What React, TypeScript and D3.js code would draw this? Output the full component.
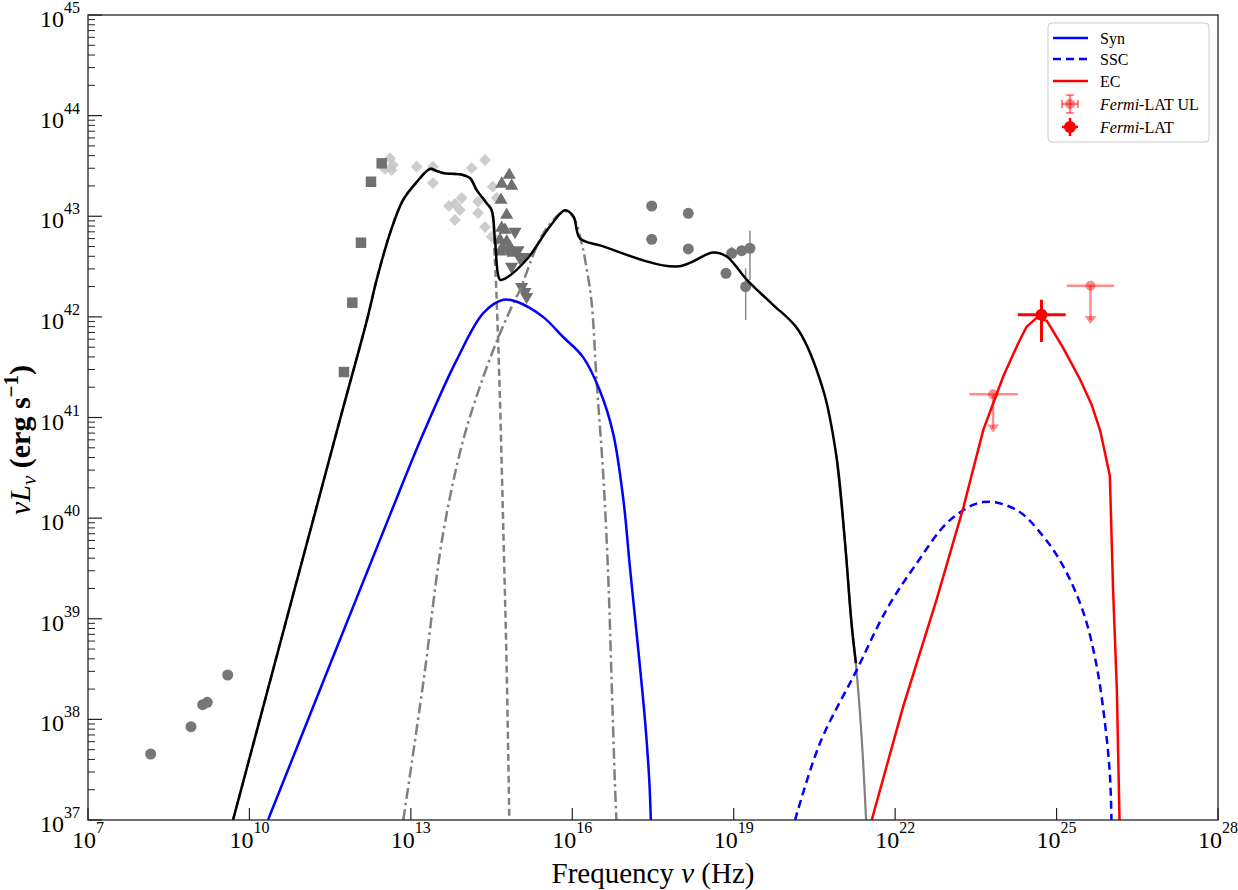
import * as d3 from "d3";
import { useEffect, useRef } from "react";

// all values are log10(nu / Hz) and log10(nuLnu / erg s^-1)

// total model (black)
const totalLogNu = [9.695, 11.683, 12.185, 12.365, 12.612, 12.854, 13.109, 13.356, 13.48, 13.597, 13.969, 14.099, 14.224, 14.409, 14.502, 14.564, 14.656, 14.749, 15.153, 15.586, 15.864, 16.02, 16.143, 16.515, 17.94, 18.62, 18.87, 19.24, 19.49, 19.73, 20.2, 20.665, 20.91, 21.065, 21.19, 21.27];
const totalLogL = [37.0, 40.98, 41.97, 42.37, 42.83, 43.16, 43.34, 43.47, 43.45, 43.43, 43.41, 43.38, 43.26, 43.13, 43.06, 42.76, 42.37, 42.38, 42.57, 42.9, 43.06, 43.0, 42.78, 42.71, 42.5, 42.64, 42.6, 42.37, 42.24, 42.12, 41.87, 41.27, 40.61, 39.78, 38.95, 38.56];

// x-ray component tail (grey solid)
const xrayLogNu = [20.91, 21.065, 21.19, 21.27, 21.38, 21.46];
const xrayLogL = [40.61, 39.78, 38.95, 38.56, 37.8, 37.0];

// host / dust component (grey dashed)
const dustLogNu = [9.695, 11.683, 12.185, 12.365, 12.612, 12.854, 13.109, 13.356, 13.48, 13.597, 13.969, 14.099, 14.224, 14.409, 14.502, 14.56, 14.595, 14.656, 14.72, 14.78, 14.83];
const dustLogL = [37.0, 40.98, 41.97, 42.37, 42.83, 43.16, 43.34, 43.47, 43.45, 43.43, 43.41, 43.38, 43.26, 43.13, 43.06, 42.57, 42.17, 41.17, 39.85, 38.52, 37.0];

// disk component (grey dash-dot)
const diskLogNu = [12.86, 13.23, 13.6, 13.975, 14.35, 14.66, 14.935, 15.03, 15.34, 15.55, 15.864, 16.02, 16.175, 16.27, 16.36, 16.45, 16.58, 16.67, 16.73, 16.79, 16.82];
const diskLogL = [37.0, 38.36, 39.85, 40.78, 41.41, 41.84, 42.17, 42.27, 42.7, 42.9, 43.05, 42.99, 42.73, 42.47, 42.14, 41.38, 40.39, 39.39, 38.4, 37.4, 37.0];

// Syn (blue)
const synLogNu = [10.345, 12.61, 13.23, 13.85, 14.35, 14.72, 14.97, 15.455, 15.83, 16.2, 16.51, 16.76, 16.95, 17.07, 17.35, 17.43, 17.46];
const synLogL = [37.0, 40.03, 40.84, 41.57, 42.04, 42.17, 42.15, 42.0, 41.8, 41.6, 41.27, 40.84, 40.18, 39.52, 38.0, 37.4, 37.0];

// SSC (blue dashed)
const sscLogNu = [20.14, 20.6, 21.285, 21.84, 22.4, 23.02, 23.64, 24.26, 24.75, 25.125, 25.5, 25.745, 25.9, 25.99, 26.02];
const sscLogL = [37.0, 37.76, 38.49, 39.09, 39.55, 39.98, 40.16, 40.08, 39.82, 39.52, 39.06, 38.53, 37.96, 37.46, 37.0];

// EC (red)
const ecLogNu = [21.565, 22.15, 22.77, 23.27, 23.64, 24.01, 24.29, 24.44, 24.63, 24.82, 25.125, 25.435, 25.65, 25.81, 25.99, 26.05, 26.12, 26.17];
const ecLogL = [37.0, 38.13, 39.19, 40.11, 40.88, 41.41, 41.74, 41.9, 41.99, 41.96, 41.69, 41.38, 41.13, 40.87, 40.42, 39.29, 38.3, 37.0];

// archival data: circles
const circLogNu = [8.165, 8.914, 9.131, 9.217, 9.596, 17.476, 17.476, 18.156, 18.156, 18.856, 18.962, 19.148, 19.302, 19.222];
const circLogL = [37.656, 37.927, 38.146, 38.17, 38.441, 43.102, 42.771, 43.029, 42.675, 42.433, 42.632, 42.658, 42.682, 42.3];
const circErrLo = [0, 0, 0, 0, 0, 0, 0, 0, 0, 0, 42.632, 0, 42.366, 41.969];
const circErrHi = [0, 0, 0, 0, 0, 0, 0, 0, 0, 0, 42.697, 0, 42.856, 42.483];

// squares
const sqLogNu = [11.757, 11.912, 12.073, 12.259, 12.458];
const sqLogL = [41.452, 42.141, 42.737, 43.343, 43.526];

// diamonds (light grey)
const diaLogNu = [12.612, 12.519, 12.668, 12.644, 13.108, 13.411, 13.411, 14.131, 14.378, 13.709, 13.82, 13.945, 13.913, 13.82, 14.248, 14.248, 14.378, 14.521, 14.596, 14.503, 14.596];
const diaLogL = [43.576, 43.47, 43.509, 43.46, 43.492, 43.492, 43.33, 43.479, 43.559, 43.102, 43.122, 43.181, 43.062, 42.963, 43.145, 43.032, 42.893, 43.294, 43.181, 42.797, 42.764];

// triangles up / down
const triUpLogNu = [14.829, 14.688, 14.874, 14.675, 14.781, 14.688, 14.75, 14.657, 14.781, 14.707, 14.842, 14.904, 14.657];
const triUpLogL = [43.41, 43.321, 43.301, 43.161, 43.012, 42.883, 42.863, 42.764, 42.747, 42.684, 42.691, 42.635, 42.648];
const triDnLogNu = [14.935, 15.09, 14.872, 15.028, 15.121, 15.152, 15.059, 14.805, 14.991];
const triDnLogL = [42.847, 42.598, 42.499, 42.585, 42.25, 42.2, 42.3, 42.665, 42.665];

// Fermi-LAT
const lat = { logNu: 24.72, logL: 42.02, nuLo: 24.28, nuHi: 25.17, lLo: 41.75, lHi: 42.17 };
const latUlLogNu = [23.82, 25.63];
const latUlLogL = [41.23, 42.31];
const latUlNuLo = [23.38, 25.19];
const latUlNuHi = [24.28, 26.07];
const ulArrow = 0.38;

const xTickExp = [7, 10, 13, 16, 19, 22, 25, 28];
const yTickExp = [37, 38, 39, 40, 41, 42, 43, 44, 45];

const legendItems = ["Syn", "SSC", "EC", "Fermi-LAT UL", "Fermi-LAT"];

const FONT = "'Liberation Serif', 'Times New Roman', serif";

const App = () => {
  const svgRef = useRef<SVGSVGElement | null>(null);

  useEffect(() => {
    const svg = d3.select(svgRef.current);
    svg.selectAll("*").remove();

    const width = 1238, height = 890;
    const margin = { top: 15, right: 20, bottom: 70, left: 88 };
    const x0 = margin.left, x1 = width - margin.right;
    const y0 = height - margin.bottom, y1 = margin.top;

    const x = d3.scaleLinear().domain([7, 28]).range([x0, x1]);
    const y = d3.scaleLinear().domain([37, 45]).range([y0, y1]);

    svg.append("rect").attr("width", width).attr("height", height).attr("fill", "#fff");

    svg.append("defs").append("clipPath").attr("id", "plotclip")
      .append("rect").attr("x", x0).attr("y", y1).attr("width", x1 - x0).attr("height", y0 - y1);

    const plot = svg.append("g").attr("clip-path", "url(#plotclip)");

    const pts = (a: number[], b: number[]) => a.map((v, i) => [v, b[i]] as [number, number]);
    const smooth = d3.line<[number, number]>().x((d) => x(d[0])).y((d) => y(d[1])).curve(d3.curveCatmullRom.alpha(0.5));
    const straight = d3.line<[number, number]>().x((d) => x(d[0])).y((d) => y(d[1]));

    const drawLine = (path: string | null, color: string, w: number, dash?: string) => {
      plot.append("path").attr("d", path).attr("fill", "none").attr("stroke", color)
        .attr("stroke-width", w).attr("stroke-dasharray", dash ?? null)
        .attr("stroke-linejoin", "round");
    };

    // data markers
    const grey = "#777777";
    diaLogNu.forEach((v, i) => {
      plot.append("path").attr("d", d3.symbol(d3.symbolSquare, 70)()!)
        .attr("transform", `translate(${x(v)},${y(diaLogL[i])}) rotate(45)`)
        .attr("fill", "#c4c4c4").attr("fill-opacity", 0.85);
    });
    sqLogNu.forEach((v, i) => {
      plot.append("path").attr("d", d3.symbol(d3.symbolSquare, 110)()!)
        .attr("transform", `translate(${x(v)},${y(sqLogL[i])})`)
        .attr("fill", "#707070");
    });
    triUpLogNu.forEach((v, i) => {
      plot.append("path").attr("d", d3.symbol(d3.symbolTriangle, 75)()!)
        .attr("transform", `translate(${x(v)},${y(triUpLogL[i])})`)
        .attr("fill", "#6f6f6f");
    });
    triDnLogNu.forEach((v, i) => {
      plot.append("path").attr("d", d3.symbol(d3.symbolTriangle, 75)()!)
        .attr("transform", `translate(${x(v)},${y(triDnLogL[i])}) rotate(180)`)
        .attr("fill", "#6f6f6f");
    });
    circLogNu.forEach((v, i) => {
      if (circErrHi[i] > 0) {
        plot.append("line").attr("x1", x(v)).attr("x2", x(v))
          .attr("y1", y(circErrLo[i])).attr("y2", y(circErrHi[i]))
          .attr("stroke", "#8a8a8a").attr("stroke-width", 1.5);
      }
      plot.append("circle").attr("cx", x(v)).attr("cy", y(circLogL[i])).attr("r", 5.5).attr("fill", grey);
    });

    // model curves
    drawLine(smooth(pts(xrayLogNu, xrayLogL)), "#808080", 2.2);
    drawLine(smooth(pts(dustLogNu, dustLogL)), "#808080", 2.5, "7,4");
    drawLine(smooth(pts(diskLogNu, diskLogL)), "#808080", 2.5, "11,4,2.5,4");
    drawLine(smooth(pts(totalLogNu, totalLogL)), "#000", 2.5);
    drawLine(smooth(pts(synLogNu, synLogL)), "#0000ff", 2.5);
    drawLine(smooth(pts(sscLogNu, sscLogL)), "#0000ff", 2.5, "8,5");
    drawLine(straight(pts(ecLogNu, ecLogL)), "#ff0000", 2.5);

    // Fermi-LAT upper limits
    const ulColor = "rgba(255,0,0,0.45)";
    latUlLogNu.forEach((v, i) => {
      const cx = x(v), cy = y(latUlLogL[i]);
      plot.append("line").attr("x1", x(latUlNuLo[i])).attr("x2", x(latUlNuHi[i]))
        .attr("y1", cy).attr("y2", cy).attr("stroke", ulColor).attr("stroke-width", 2.5);
      const ay = y(latUlLogL[i] - ulArrow);
      plot.append("line").attr("x1", cx).attr("x2", cx).attr("y1", cy).attr("y2", ay - 4)
        .attr("stroke", ulColor).attr("stroke-width", 2.5);
      plot.append("path").attr("d", `M${cx - 6},${ay - 8} L${cx + 6},${ay - 8} L${cx},${ay} Z`)
        .attr("fill", ulColor);
      plot.append("circle").attr("cx", cx).attr("cy", cy).attr("r", 5).attr("fill", ulColor);
    });

    // Fermi-LAT detection
    {
      const cx = x(lat.logNu), cy = y(lat.logL);
      plot.append("line").attr("x1", x(lat.nuLo)).attr("x2", x(lat.nuHi)).attr("y1", cy).attr("y2", cy)
        .attr("stroke", "#ff0000").attr("stroke-width", 3);
      plot.append("line").attr("x1", cx).attr("x2", cx).attr("y1", y(lat.lLo)).attr("y2", y(lat.lHi))
        .attr("stroke", "#ff0000").attr("stroke-width", 3);
      plot.append("circle").attr("cx", cx).attr("cy", cy).attr("r", 6).attr("fill", "#ff0000");
    }

    // axes frame
    svg.append("rect").attr("x", x0).attr("y", y1).attr("width", x1 - x0).attr("height", y0 - y1)
      .attr("fill", "none").attr("stroke", "#222").attr("stroke-width", 1.3);

    const axes = svg.append("g").attr("font-family", FONT).attr("fill", "#000");

    // x ticks
    xTickExp.forEach((e) => {
      const px = x(e);
      axes.append("line").attr("x1", px).attr("x2", px).attr("y1", y0).attr("y2", y0 - 12)
        .attr("stroke", "#222").attr("stroke-width", 1.2);
      const t = axes.append("text").attr("x", px).attr("y", y0 + 28).attr("text-anchor", "middle").attr("font-size", 24);
      t.append("tspan").text("10");
      t.append("tspan").attr("dy", -15).attr("font-size", 16).text(String(e));
    });

    // y ticks (major + minor)
    yTickExp.forEach((e) => {
      const py = y(e);
      axes.append("line").attr("x1", x0).attr("x2", x0 + 14).attr("y1", py).attr("y2", py)
        .attr("stroke", "#222").attr("stroke-width", 1.2);
      const t = axes.append("text").attr("x", x0 - 8).attr("y", py + 12).attr("text-anchor", "end").attr("font-size", 24);
      t.append("tspan").text("10");
      t.append("tspan").attr("dy", -14).attr("font-size", 16).text(String(e));
      if (e < 45) {
        for (let m = 2; m <= 9; m++) {
          const my = y(e + Math.log10(m));
          axes.append("line").attr("x1", x0).attr("x2", x0 + 7).attr("y1", my).attr("y2", my)
            .attr("stroke", "#222").attr("stroke-width", 1);
        }
      }
    });

    // axis titles
    const xl = axes.append("text").attr("x", (x0 + x1) / 2).attr("y", 883)
      .attr("text-anchor", "middle").attr("font-size", 29);
    xl.append("tspan").text("Frequency ");
    xl.append("tspan").attr("font-style", "italic").text("ν");
    xl.append("tspan").text(" (Hz)");

    const yl = axes.append("text").attr("transform", `translate(30,440) rotate(-90)`)
      .attr("text-anchor", "middle").attr("font-size", 30).attr("font-weight", "bold");
    yl.append("tspan").attr("font-style", "italic").attr("font-weight", "normal").text("νL");
    yl.append("tspan").attr("font-style", "italic").attr("font-weight", "normal").attr("font-size", 21).attr("dy", 6).text("ν");
    yl.append("tspan").attr("dy", -6).text(" (erg s");
    yl.append("tspan").attr("font-size", 21).attr("dy", -12).text("−1");
    yl.append("tspan").attr("dy", 12).text(")");

    // legend
    const lg = svg.append("g").attr("font-family", FONT).attr("font-size", 16);
    lg.append("rect").attr("x", 1048).attr("y", 23).attr("width", 161).attr("height", 119).attr("rx", 4)
      .attr("fill", "#fff").attr("stroke", "#cccccc").attr("stroke-width", 1);
    const rowY = [38, 59, 81, 104, 127];
    legendItems.forEach((name, i) => {
      const ry = rowY[i];
      if (i < 3) {
        lg.append("line").attr("x1", 1053).attr("x2", 1088).attr("y1", ry).attr("y2", ry)
          .attr("stroke", i === 2 ? "#ff0000" : "#0000ff").attr("stroke-width", 2.5)
          .attr("stroke-dasharray", i === 1 ? "8,5" : null);
      } else {
        const c = i === 3 ? ulColor : "#ff0000";
        const cx = 1070;
        lg.append("line").attr("x1", cx - 8).attr("x2", cx + 8).attr("y1", ry).attr("y2", ry).attr("stroke", c).attr("stroke-width", 2.5);
        lg.append("line").attr("x1", cx).attr("x2", cx).attr("y1", ry - 9).attr("y2", ry + 9).attr("stroke", c).attr("stroke-width", 2.5);
        if (i === 3) {
          lg.append("line").attr("x1", cx - 8).attr("x2", cx - 8).attr("y1", ry - 4).attr("y2", ry + 4).attr("stroke", c).attr("stroke-width", 2);
          lg.append("line").attr("x1", cx + 8).attr("x2", cx + 8).attr("y1", ry - 4).attr("y2", ry + 4).attr("stroke", c).attr("stroke-width", 2);
          lg.append("line").attr("x1", cx - 4).attr("x2", cx + 4).attr("y1", ry - 9).attr("y2", ry - 9).attr("stroke", c).attr("stroke-width", 2);
          lg.append("line").attr("x1", cx - 4).attr("x2", cx + 4).attr("y1", ry + 9).attr("y2", ry + 9).attr("stroke", c).attr("stroke-width", 2);
        }
        lg.append("circle").attr("cx", cx).attr("cy", ry).attr("r", i === 3 ? 5 : 6).attr("fill", c);
      }
      const t = lg.append("text").attr("x", 1100).attr("y", ry + 5.5);
      if (i >= 3) {
        t.append("tspan").attr("font-style", "italic").text("Fermi");
        t.append("tspan").text(name.slice(5));
      } else {
        t.text(name);
      }
    });
  }, []);

  return (
    <div style={{ position: "absolute", left: 0, top: 0 }}>
      <svg ref={svgRef} width={1238} height={890} style={{ display: "block" }}></svg>
    </div>
  );
};

export default App;
